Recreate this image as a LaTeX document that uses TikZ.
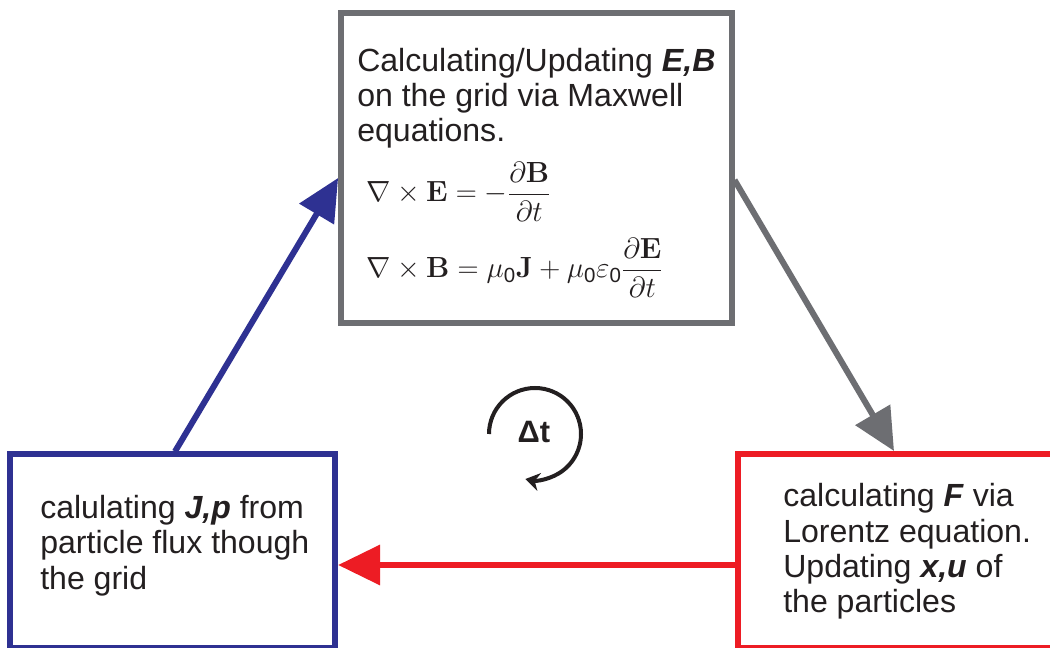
\documentclass[tikz,border=0pt]{standalone}
\usepackage{amsmath}
\usepackage[no-math]{fontspec}
\setmainfont{Liberation Sans}
\usetikzlibrary{arrows.meta}
\definecolor{bgray}{RGB}{109,110,114}
\definecolor{bblue}{RGB}{46,49,146}
\definecolor{bred}{RGB}{237,28,36}
\definecolor{txt}{RGB}{35,31,32}
\begin{document}
\begin{tikzpicture}[x=0.25mm, y=-0.25mm,
  box/.style={draw, line width=1.5mm, inner sep=0pt},
  body/.style={anchor=base west, inner sep=0pt, align=left, text=txt, font=\fontsize{22.8}{25}\selectfont},
  eq/.style={anchor=base west, inner sep=0pt, text=txt, font=\fontsize{20.8}{23}\selectfont},
  conn/.style={line width=1.5mm, -{Triangle[length=10.5mm,width=9.8mm]}},
]
\clip (0,0) rectangle (1050,648);
\fill[white] (0,0) rectangle (1050,648);
% boxes
\node[box, draw=bgray, minimum width=97.6mm, minimum height=77.4mm] (tb) at (536.3,168.2) {};
\node[box, draw=bblue, minimum width=81.2mm, minimum height=48.4mm] (lb) at (172.7,551.3) {};
\node[box, draw=bred, minimum width=81mm, minimum height=48.5mm] (rb) at (900,551) {};
% texts (base anchor = baseline of last line)
\node[body] (tt) at (357,141.7) {Calculating/Updating \textbf{\textit{E,B}}\\on the grid via Maxwell\\equations.};
\node[eq] (eq1) at (366,202) {$\displaystyle \nabla\times\mathbf{E} = -\frac{\partial\mathbf{B}}{\partial t}$};
\node[eq] (eq2) at (366,278) {$\displaystyle \nabla\times\mathbf{B} = \mu_{\text{0}}\mathbf{J}+\mu_{\text{0}}\varepsilon_{\text{0}}\frac{\partial\mathbf{E}}{\partial t}$};
\node[body] (lt) at (40,589) {calulating \textbf{\textit{J,p}} from\\particle flux though\\the grid};
\node[body] (rt) at (783,612.3) {calculating \textbf{\textit{F}} via\\Lorentz equation.\\Updating \textbf{\textit{x,u}} of\\the particles};
% connectors
\draw[conn, bblue] (175,0 |- lb.north) -- (tb.west |- 0,178);
\draw[conn, bgray] (tb.east |- 0,180) -- (894,0 |- rb.north);
\draw[conn, bred] (rb.west |- 0,565) -- (lb.east |- 0,565);
% cycle symbol
\coordinate (cyc) at (535,434);
\node[text=txt, font=\fontsize{22}{24}\selectfont\bfseries, inner sep=0pt] (dt) at (534,432) {Δt};
\draw[line width=1mm, txt, -{Stealth[length=3.5mm,width=4.5mm]}] ([xshift=-11.5mm]cyc) arc[start angle=180, end angle=-102, radius=11.5mm];
\end{tikzpicture}
\end{document}
